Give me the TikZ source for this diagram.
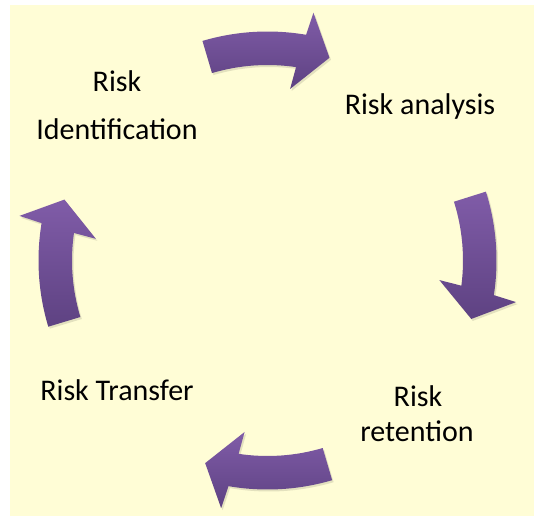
\documentclass[tikz,border=0pt]{standalone}
\usepackage{fontspec}
\setmainfont{Carlito}
\usepackage{tikz}
\usetikzlibrary{positioning,calc}

\definecolor{paper}{RGB}{255,253,214}
\definecolor{plumtop}{RGB}{128,92,168}
\definecolor{plumbot}{RGB}{94,66,130}

\tikzset{
	stage/.style={font=\fontsize{30}{36}\selectfont, inner sep=0pt, anchor=base},
	cyclearrow/.style={top color=plumtop, bottom color=plumbot, draw=none},
	arrowshadow/.style={fill=black!60!paper, opacity=0.18, draw=none}
}

\begin{document}
\begin{tikzpicture}[x=1pt,y=1pt]
	\useasboundingbox (0,0) rectangle (534,517);
	\fill[paper] (10,1) rectangle (534,512);
	\coordinate (hub) at (267.5,256.5);

	% the four curved arrows, tail angle given
	\foreach \t in {106.5,17.5,-73.6,196.8}{
		\path[arrowshadow, shift={($(hub)+(1.5,-2)$)}]
			(\t:229) arc[start angle=\t, end angle=\t-26.2, radius=229]
			-- (\t-27:252) -- (\t-33.5:212) -- (\t-24:173) -- (\t-24.9:195.5)
			arc[start angle=\t-24.9, end angle=\t, radius=195.5] -- cycle;
		\path[cyclearrow, shift={(hub)}]
			(\t:229) arc[start angle=\t, end angle=\t-26.2, radius=229]
			-- (\t-27:252) -- (\t-33.5:212) -- (\t-24:173) -- (\t-24.9:195.5)
			arc[start angle=\t-24.9, end angle=\t, radius=195.5] -- cycle;
	}

	\node[stage] (ident1) at (117,425) {Risk};
	\node[stage] (ident2) at (117,377) {Identification};
	\node[stage] (analysis) at (420,402) {Risk analysis};
	\node[stage] (retent1) at (418,111) {Risk};
	\node[stage] (retent2) at (417,76) {retention};
	\node[stage] (transfer) at (117,117) {Risk Transfer};
\end{tikzpicture}
\end{document}
